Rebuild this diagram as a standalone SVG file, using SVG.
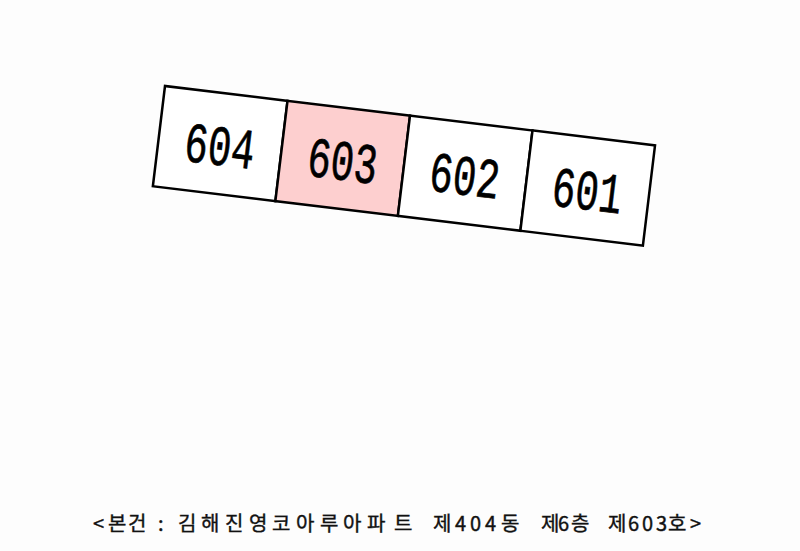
<svg xmlns="http://www.w3.org/2000/svg" width="800" height="551" viewBox="0 0 800 551">
<style>
.cell{fill:#ffffff;stroke:#000000;stroke-width:2.5}
.hl{fill:#fdcfcf}
.num{font-family:"Liberation Mono","Courier New",monospace;font-size:57px;fill:#000000;stroke:#000000;stroke-width:0.7;text-anchor:middle}
.cap{font-family:"Noto Sans CJK KR","Noto Sans",sans-serif;font-size:20px;fill:#111111;stroke:#111111;stroke-width:0.4}
</style>
<rect width="800" height="551" fill="#fdfdfd"/>
<g transform="translate(165,86) rotate(6.9)">
<g id="unit-604"><rect class="cell" x="0" y="0" width="123.4" height="101"/><text class="num" x="61.7" y="72" textLength="70" lengthAdjust="spacingAndGlyphs">604</text></g>
<g id="unit-603"><rect class="cell hl" x="123.4" y="0" width="123.4" height="101"/><text class="num" x="185.4" y="72" textLength="70" lengthAdjust="spacingAndGlyphs">603</text></g>
<g id="unit-602"><rect class="cell" x="246.8" y="0" width="123.4" height="101"/><text class="num" x="308.5" y="72" textLength="70" lengthAdjust="spacingAndGlyphs">602</text></g>
<g id="unit-601"><rect class="cell" x="370.2" y="0" width="123.4" height="101"/><text class="num" x="431.9" y="72" textLength="70" lengthAdjust="spacingAndGlyphs">601</text></g>
</g>
<g id="connectors"/>
<g id="caption"><text class="cap" y="531" x="93 108 128 147 158 167 178 201 225 249 272 296 320 343 367 394 415 433 455 470 485 501 522 541 558 571 592 608 628 642 656 668 690">&lt;본건 : 김해진영코아루아파트 제404동 제6층 제603호&gt;</text></g>
</svg>
